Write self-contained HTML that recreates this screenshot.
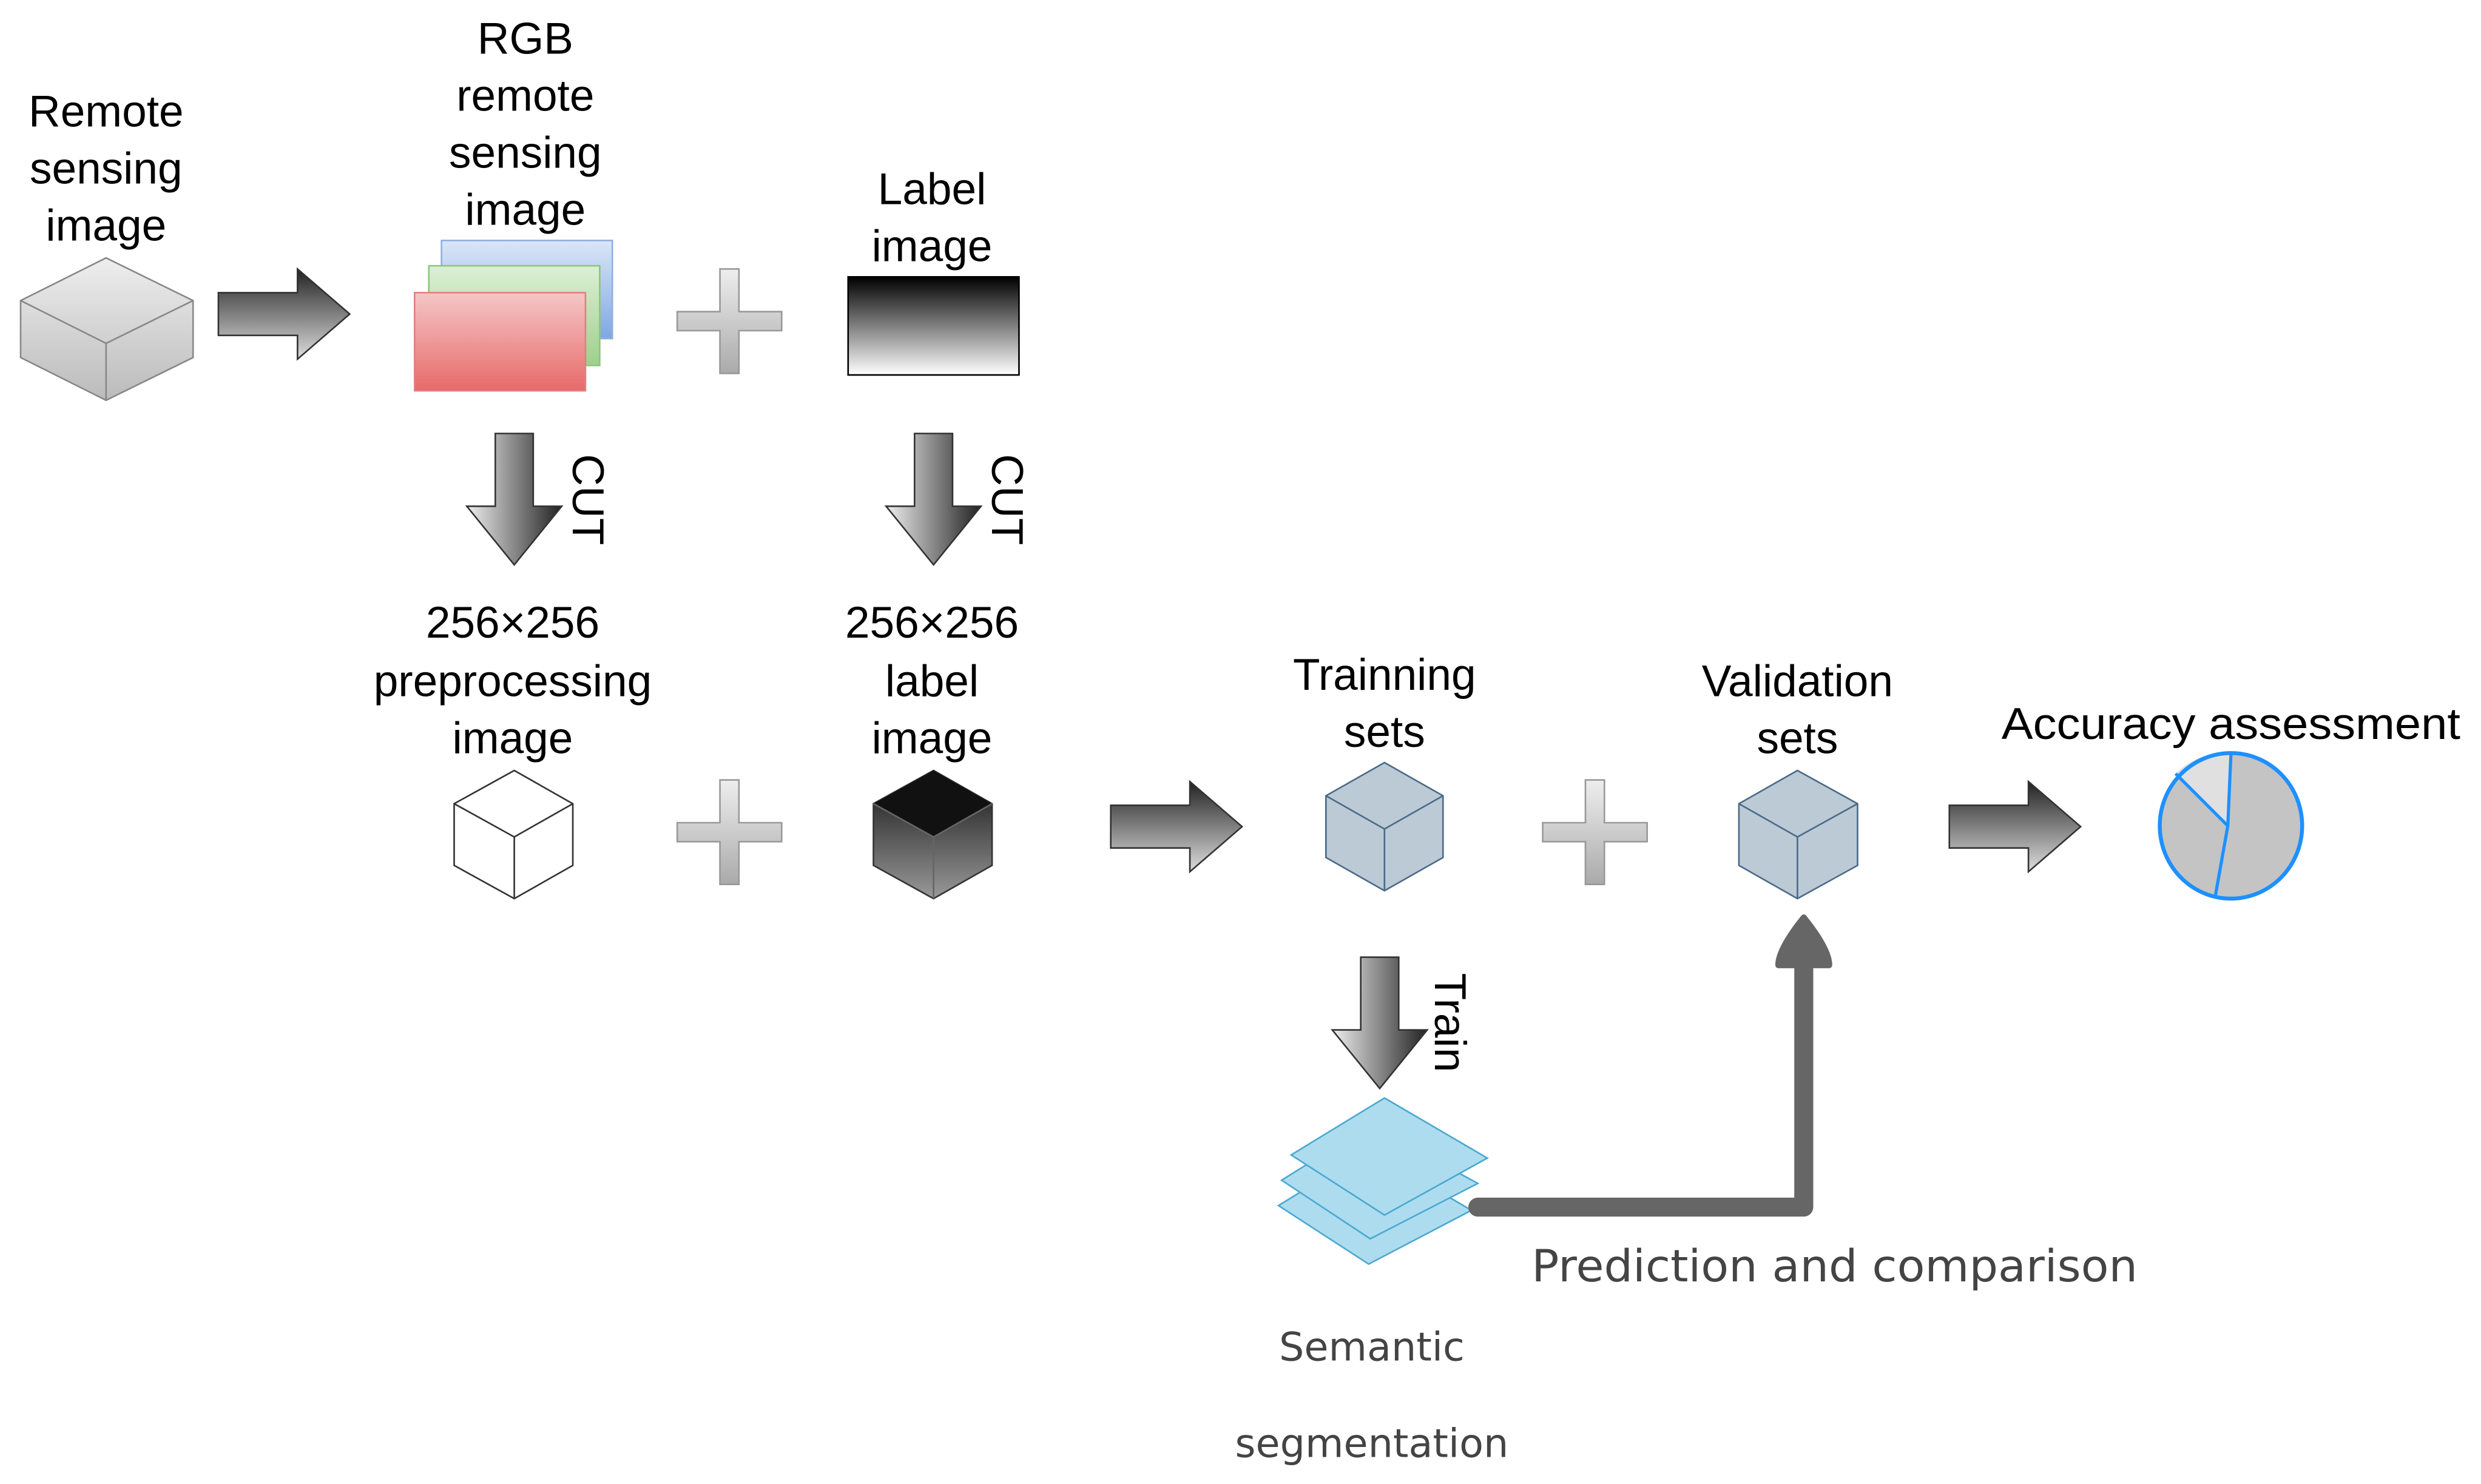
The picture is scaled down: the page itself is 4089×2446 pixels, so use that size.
<!DOCTYPE html>
<html><head><meta charset="utf-8"><style>html,body{margin:0;padding:0;background:#fff}svg{display:block}</style></head>
<body>
<svg width="4089" height="2446" viewBox="0 0 1568 938" xmlns="http://www.w3.org/2000/svg" font-family="Liberation Sans, sans-serif">
<defs>
<linearGradient id="ra" x1="0" y1="0" x2="0" y2="1"><stop offset="0" stop-color="#222"/><stop offset="1" stop-color="#ddd"/></linearGradient>
<linearGradient id="da" x1="0" y1="0" x2="1" y2="0"><stop offset="0" stop-color="#eee"/><stop offset="1" stop-color="#222"/></linearGradient>
<linearGradient id="pl" x1="0" y1="0" x2="0" y2="1"><stop offset="0" stop-color="#eee"/><stop offset="1" stop-color="#aaa"/></linearGradient>
<linearGradient id="gc" x1="0" y1="0" x2="0" y2="1"><stop offset="0" stop-color="#eee"/><stop offset="1" stop-color="#bbb"/></linearGradient>
<linearGradient id="bl" x1="0" y1="0" x2="0" y2="1"><stop offset="0" stop-color="#000"/><stop offset="1" stop-color="#fff"/></linearGradient>
<linearGradient id="rr" x1="0" y1="0" x2="0" y2="1"><stop offset="0" stop-color="#f5c6c6"/><stop offset="1" stop-color="#e86a6a"/></linearGradient>
<linearGradient id="gr" x1="0" y1="0" x2="0" y2="1"><stop offset="0" stop-color="#dcefd6"/><stop offset="1" stop-color="#9ed08c"/></linearGradient>
<linearGradient id="br" x1="0" y1="0" x2="0" y2="1"><stop offset="0" stop-color="#dbe6f8"/><stop offset="1" stop-color="#7fa8e0"/></linearGradient>
<linearGradient id="bc" x1="0" y1="0" x2="0" y2="1"><stop offset="0" stop-color="#111"/><stop offset="1" stop-color="#999"/></linearGradient>
<g id="rarr"><path d="M0,15 H50 V0 L83,28.5 L50,57 V42 H0 Z" fill="url(#ra)" stroke="#333" stroke-width="1"/></g>
<g id="darr"><path d="M-12,0 H12 V46 H30 L0,83 L-30,46 H-12 Z" fill="url(#da)" stroke="#333" stroke-width="1"/></g>
<g id="plus"><path d="M-6,-33 H6 V-6 H33 V6 H6 V33 H-6 V6 H-33 V-6 H-6 Z" fill="url(#pl)" stroke="#999" stroke-width="1"/></g>
</defs>
<g font-size="28" text-anchor="middle" fill="#000">
<text x="67" y="80">Remote</text><text x="67" y="116">sensing</text><text x="67" y="152">image</text>
<text x="332" y="34">RGB</text><text x="332" y="70">remote</text><text x="332" y="106">sensing</text><text x="332" y="142">image</text>
<text x="589" y="129">Label</text><text x="589" y="165">image</text>
<text x="324" y="403">256×256</text><text x="324" y="440">preprocessing</text><text x="324" y="476">image</text>
<text x="589" y="403">256×256</text><text x="589" y="440">label</text><text x="589" y="476">image</text>
<text x="875" y="436">Trainning</text><text x="875" y="472">sets</text>
<text x="1136" y="440">Validation</text><text x="1136" y="476">sets</text>
<text x="1410" y="467" textLength="290" lengthAdjust="spacingAndGlyphs">Accuracy assessment</text>
</g>
<path d="M67,163 L122,190 L122,226 L67,253 L13,226 L13,190 Z" fill="url(#gc)" stroke="#888"/>
<path d="M13,190 L67,217 L122,190 M67,217 V253" fill="none" stroke="#888"/>
<use href="#rarr" x="138" y="170"/>
<rect x="279" y="152" width="108" height="62" fill="url(#br)" stroke="#8fb0e0"/>
<rect x="271" y="168" width="108" height="63" fill="url(#gr)" stroke="#8cc77a"/>
<rect x="262" y="185" width="108" height="62" fill="url(#rr)" stroke="#e08080"/>
<use href="#plus" x="461" y="203"/>
<rect x="536" y="175" width="108" height="62" fill="url(#bl)" stroke="#000"/>
<use href="#darr" x="325" y="274"/>
<use href="#darr" x="590" y="274"/>
<g font-size="28"><text transform="translate(362,287) rotate(90)">CUT</text><text transform="translate(627,287) rotate(90)">CUT</text><text transform="translate(907,615) rotate(90)">Train</text></g>
<path d="M325,487 L362,508 L362,547 L325,568 L287,547 L287,508 Z" fill="#fff" stroke="#333"/>
<path d="M287,508 L325,529 L362,508 M325,529 V568" fill="none" stroke="#333"/>
<use href="#plus" x="461" y="526"/>
<path d="M590,487 L627,508 L627,547 L590,568 L552,547 L552,508 Z" fill="url(#bc)" stroke="#333"/>
<path d="M590,487 L627,508 L590,529 L552,508 Z" fill="#111"/>
<path d="M552,508 L590,529 L627,508 M590,529 V568" fill="none" stroke="#666"/>
<use href="#rarr" x="702" y="494"/>
<path d="M875,482 L912,503 L912,542 L875,563 L838,542 L838,503 Z" fill="#bccad6" stroke="#4a6a88"/>
<path d="M838,503 L875,524 L912,503 M875,524 V563" fill="none" stroke="#4a6a88"/>
<use href="#plus" x="1008" y="526"/>
<path d="M1136,487 L1174,508 L1174,547 L1136,568 L1099,547 L1099,508 Z" fill="#bccad6" stroke="#4a6a88"/>
<path d="M1099,508 L1136,529 L1174,508 M1136,529 V568" fill="none" stroke="#4a6a88"/>
<use href="#rarr" x="1232" y="494"/>
<ellipse cx="1410" cy="522" rx="45" ry="46" fill="#c4c4c4"/>
<path d="M1410,476 L1408,522 L1375,489 A45,46 0 0 1 1410,476 Z" fill="#e0e0e0"/>
<path d="M1410,476 L1408,522 L1400,567 M1408,522 L1375,489" fill="none" stroke="#1e90ff" stroke-width="2"/>
<ellipse cx="1410" cy="522" rx="45" ry="46" fill="none" stroke="#1e90ff" stroke-width="2.5"/>
<use href="#darr" x="872" y="605"/>
<g fill="#aedcef" stroke="#4aa8d0" stroke-width="1">
<path d="M865,727 L930,765 L865,799 L808,762 Z"/>
<path d="M866,711 L934,748 L866,783 L810,746 Z"/>
<path d="M875,694 L940,732 L875,768 L816,730 Z"/>
</g>
<path d="M934,763 H1140 V605" fill="none" stroke="#666" stroke-width="12" stroke-linejoin="round" stroke-linecap="round"/>
<path d="M1140,580 Q1156,600 1156,610 L1124,610 Q1124,600 1140,580 Z" fill="#666" stroke="#666" stroke-width="4" stroke-linejoin="round"/>
<g font-family="DejaVu Sans, sans-serif" fill="#444">
<text x="968" y="810" font-size="28" textLength="383" lengthAdjust="spacingAndGlyphs">Prediction and comparison</text>
<text x="867" y="860" font-size="25" text-anchor="middle">Semantic</text>
<text x="867" y="921" font-size="25" text-anchor="middle">segmentation</text>
</g>
</svg>
</body></html>
